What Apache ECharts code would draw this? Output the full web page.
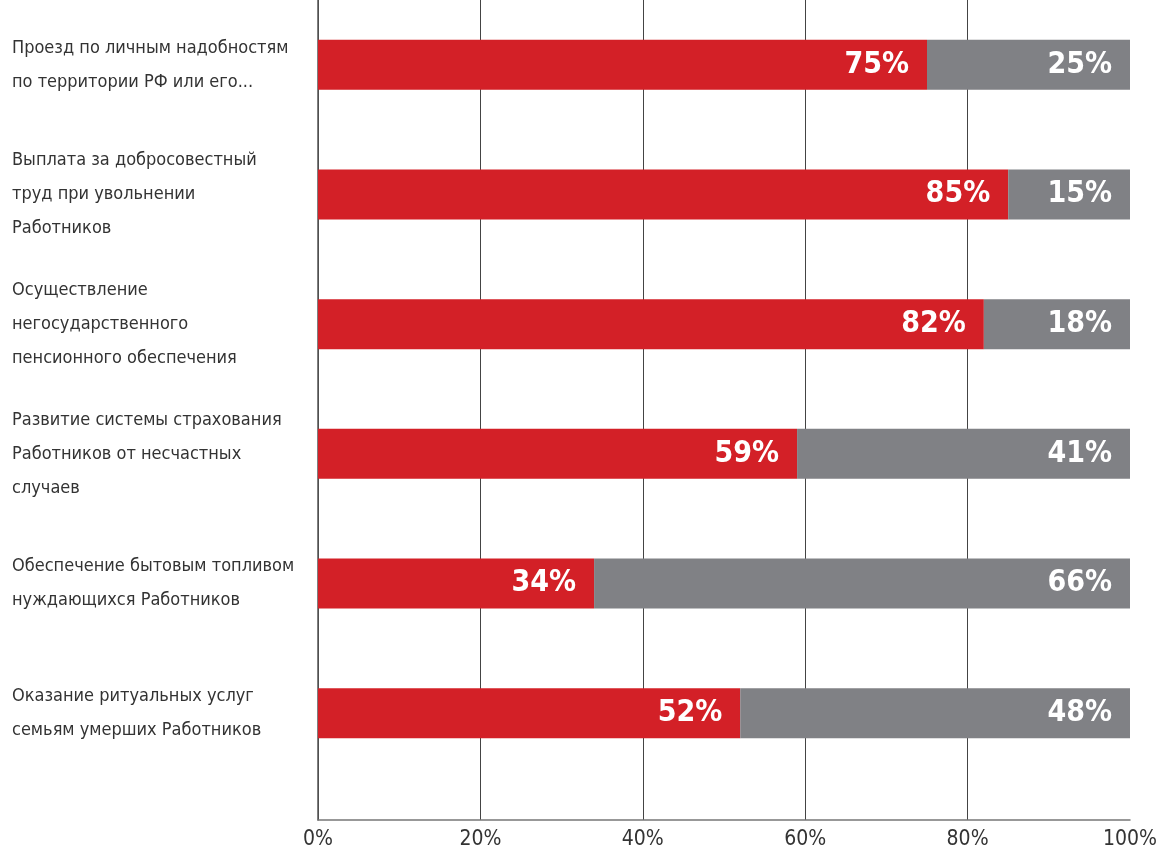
<!DOCTYPE html>
<html>
<head>
<meta charset="utf-8">
<script src="https://cdn.jsdelivr.net/npm/echarts@6/dist/echarts.min.js"></script>
<style>
  html, body { margin: 0; padding: 0; background: #fff; }
  #main { width: 1174px; height: 854px; }
</style>
</head>
<body>
<div id="main"></div>
<script>
// categories, top to bottom
const categories = [
  'Проезд по личным надобностям\nпо территории РФ или его...',
  'Выплата за добросовестный\nтруд при увольнении\nРаботников',
  'Осуществление\nнегосударственного\nпенсионного обеспечения',
  'Развитие системы страхования\nРаботников от несчастных\nслучаев',
  'Обеспечение бытовым топливом\nнуждающихся Работников',
  'Оказание ритуальных услуг\nсемьям умерших Работников'
];
const redValues = [75, 85, 82, 59, 34, 52];
const greyValues = [25, 15, 18, 41, 66, 48];
const xTicks = [0, 20, 40, 60, 80, 100];

const FONT = '"Liberation Sans Narrow", "DejaVu Sans Condensed", sans-serif';

const chart = echarts.init(document.getElementById('main'));

const valueLabel = {
  show: true,
  position: 'insideRight',
  distance: 18,
  formatter: '{c}%',
  color: '#fff',
  fontFamily: FONT,
  fontWeight: 'bold',
  fontSize: 30
};

chart.setOption({
  animation: false,
  grid: [
    // frame: axis, grid lines
    { left: 318, right: 44, top: 0, bottom: 34 },
    // bars
    { left: 318, right: 44, top: -10, height: 788 }
  ],
  xAxis: [
    {
      gridIndex: 0,
      type: 'value',
      min: xTicks[0],
      max: xTicks[xTicks.length - 1],
      interval: 20,
      axisLine: { show: true, lineStyle: { color: '#777', width: 1.5 } },
      axisTick: { show: false },
      axisLabel: {
        formatter: '{value}%',
        color: '#333',
        fontFamily: FONT,
        fontSize: 21,
        margin: 9
      },
      splitLine: { show: true, showMaxLine: false, lineStyle: { color: '#444', width: 1 } }
    },
    { gridIndex: 1, type: 'value', min: 0, max: 100, show: false }
  ],
  yAxis: [
    {
      gridIndex: 0,
      type: 'value',
      min: 0,
      max: 1,
      axisLine: { show: true, lineStyle: { color: '#555', width: 1.5 } },
      axisTick: { show: false },
      axisLabel: { show: false },
      splitLine: { show: false }
    },
    {
      gridIndex: 1,
      type: 'category',
      inverse: true,
      data: categories,
      axisLine: { show: false },
      axisTick: { show: false },
      axisLabel: {
        align: 'left',
        margin: 306,
        color: '#333',
        fontFamily: FONT,
        fontSize: 18,
        lineHeight: 34
      }
    }
  ],
  series: [
    {
      name: 'red',
      type: 'bar',
      stack: 'total',
      xAxisIndex: 1,
      yAxisIndex: 1,
      barWidth: 50,
      data: redValues,
      itemStyle: { color: '#d32027' },
      label: valueLabel
    },
    {
      name: 'grey',
      type: 'bar',
      stack: 'total',
      xAxisIndex: 1,
      yAxisIndex: 1,
      barWidth: 50,
      data: greyValues,
      itemStyle: { color: '#808185' },
      label: valueLabel
    }
  ]
});
</script>
</body>
</html>
